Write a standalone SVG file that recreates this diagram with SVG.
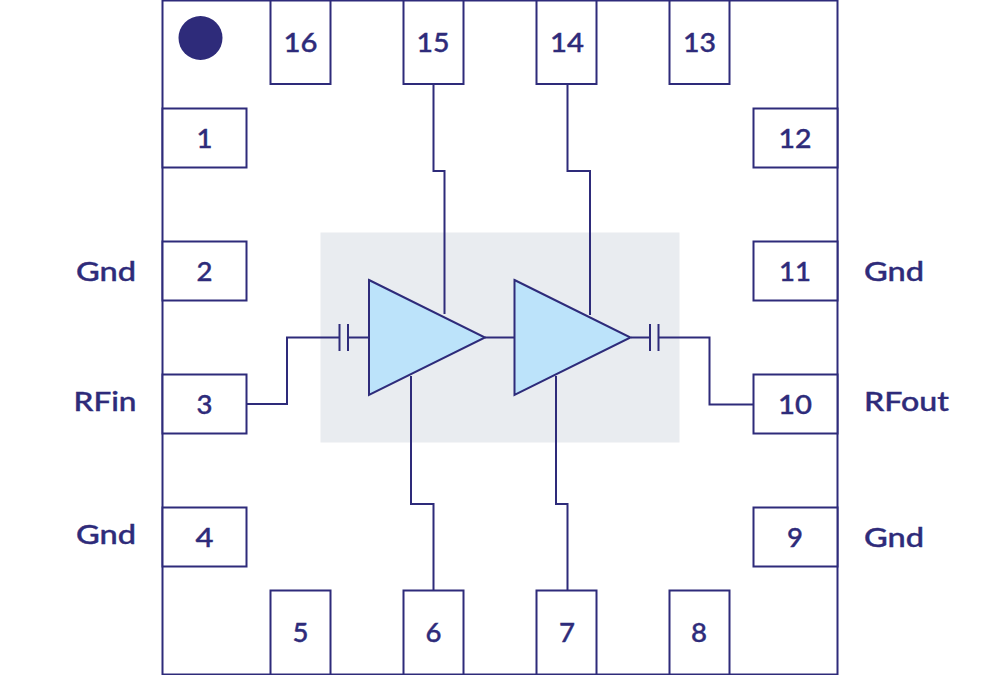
<svg xmlns="http://www.w3.org/2000/svg" width="1000" height="675" viewBox="0 0 1000 675">
<style>
.o{fill:none;stroke:#2e2b7a;stroke-width:2}
.b{fill:#fff;stroke:#2e2b7a;stroke-width:2}
.a{fill:#bce3fa;stroke:#2e2b7a;stroke-width:2;stroke-linejoin:miter}
text{font-family:"Lato","Liberation Sans",sans-serif;font-size:27px;font-weight:500;fill:#2e2b7a;stroke:#2e2b7a;stroke-width:.4;lengthAdjust:spacingAndGlyphs}
.m{text-anchor:middle}
</style>
<rect width="1000" height="675" fill="#fff"/>
<rect id="package" class="o" x="162.500" y="0.500" width="675" height="674"/>
<rect id="die" x="320.500" y="232.500" width="359" height="210" fill="#e9ecf0"/>
<circle id="marker" cx="200.500" cy="38" r="22" fill="#2e2b7a"/>
<g id="connectors">
<path class="o" d="M247 404H287V337.500H339M348 337.500H369"/>
<path class="o" d="M339.500 324V351M348 324V351"/>
<path class="o" d="M433.500 84V171H444.500V314"/>
<path class="o" d="M567.500 84V171H590V315"/>
<path class="o" d="M411 376V504H433.500V590"/>
<path class="o" d="M556 376V504H567.500V590"/>
<path class="o" d="M485 337.500H515"/>
<path class="o" d="M631 337.500H650M658.500 337.500H709.500V404.500H753"/>
<path class="o" d="M650 324V351M658.500 324V351"/>
</g>
<g id="amp1"><polygon class="a" points="369,280 485,337.500 369,395"/></g>
<g id="amp2"><polygon class="a" points="514.500,280 630.500,337.500 514.500,395"/></g>
<g id="pin1"><rect class="b" x="162.500" y="108.500" width="84" height="59"/><text class="m" x="204.500" y="148" textLength="16" lengthAdjust="spacingAndGlyphs">1</text></g>
<g id="pin2"><rect class="b" x="162.500" y="241.500" width="84" height="59"/><text class="m" x="204.500" y="281" textLength="16" lengthAdjust="spacingAndGlyphs">2</text></g>
<g id="pin3"><rect class="b" x="162.500" y="374.500" width="84" height="59"/><text class="m" x="204.500" y="414" textLength="16" lengthAdjust="spacingAndGlyphs">3</text></g>
<g id="pin4"><rect class="b" x="162.500" y="507.500" width="84" height="59"/><text class="m" x="204.500" y="547" textLength="18" lengthAdjust="spacingAndGlyphs">4</text></g>
<g id="pin5"><rect class="b" x="270.500" y="590.500" width="60" height="84"/><text class="m" x="300.500" y="642" textLength="16" lengthAdjust="spacingAndGlyphs">5</text></g>
<g id="pin6"><rect class="b" x="403.500" y="590.500" width="60" height="84"/><text class="m" x="433.500" y="642" textLength="16" lengthAdjust="spacingAndGlyphs">6</text></g>
<g id="pin7"><rect class="b" x="536.500" y="590.500" width="60" height="84"/><text class="m" x="567" y="642" textLength="16" lengthAdjust="spacingAndGlyphs">7</text></g>
<g id="pin8"><rect class="b" x="669.500" y="590.500" width="60" height="84"/><text class="m" x="699" y="642" textLength="16" lengthAdjust="spacingAndGlyphs">8</text></g>
<g id="pin9"><rect class="b" x="753.500" y="507.500" width="84" height="59"/><text class="m" x="795" y="547" textLength="16" lengthAdjust="spacingAndGlyphs">9</text></g>
<g id="pin10"><rect class="b" x="753.500" y="374.500" width="84" height="59"/><text class="m" x="795" y="414" textLength="34" lengthAdjust="spacingAndGlyphs">10</text></g>
<g id="pin11"><rect class="b" x="753.500" y="241.500" width="84" height="59"/><text class="m" x="795" y="281" textLength="32" lengthAdjust="spacingAndGlyphs">11</text></g>
<g id="pin12"><rect class="b" x="753.500" y="108.500" width="84" height="59"/><text class="m" x="795" y="148" textLength="33" lengthAdjust="spacingAndGlyphs">12</text></g>
<g id="pin13"><rect class="b" x="669.500" y="0.500" width="60" height="83.500"/><text class="m" x="699.500" y="52" textLength="33" lengthAdjust="spacingAndGlyphs">13</text></g>
<g id="pin14"><rect class="b" x="536.500" y="0.500" width="60" height="83.500"/><text class="m" x="567" y="52" textLength="34" lengthAdjust="spacingAndGlyphs">14</text></g>
<g id="pin15"><rect class="b" x="403.500" y="0.500" width="60" height="83.500"/><text class="m" x="433" y="52" textLength="33" lengthAdjust="spacingAndGlyphs">15</text></g>
<g id="pin16"><rect class="b" x="270.500" y="0.500" width="60" height="83.500"/><text class="m" x="300.500" y="52" textLength="34" lengthAdjust="spacingAndGlyphs">16</text></g>
<g id="labels">
<text x="76" y="281" textLength="60" lengthAdjust="spacingAndGlyphs">Gnd</text>
<text x="73.500" y="411" textLength="63" lengthAdjust="spacingAndGlyphs">RFin</text>
<text x="76" y="544" textLength="60" lengthAdjust="spacingAndGlyphs">Gnd</text>
<text x="864" y="281" textLength="60" lengthAdjust="spacingAndGlyphs">Gnd</text>
<text x="864" y="411" textLength="85" lengthAdjust="spacingAndGlyphs">RFout</text>
<text x="864" y="547" textLength="60" lengthAdjust="spacingAndGlyphs">Gnd</text>
</g>
</svg>
